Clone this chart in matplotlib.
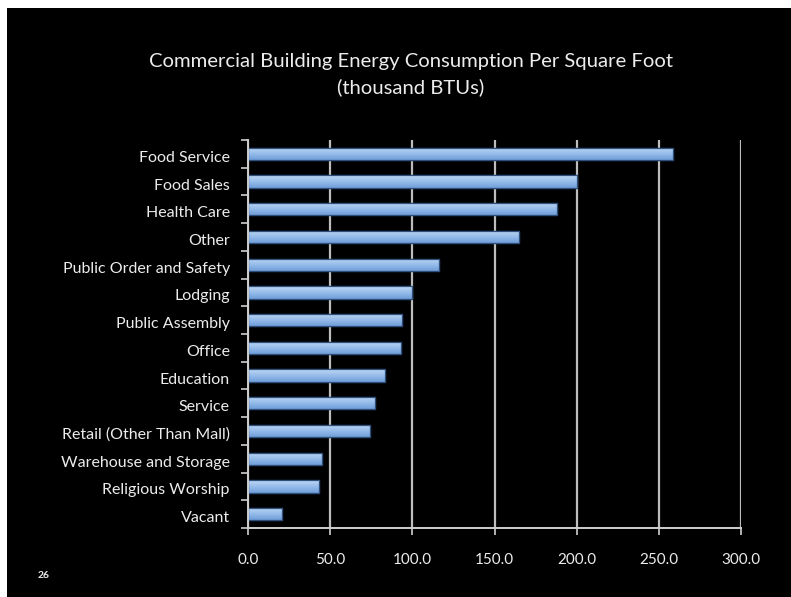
import numpy as np
import matplotlib
matplotlib.use("Agg")
import matplotlib.pyplot as plt
from matplotlib.colors import LinearSegmentedColormap
from matplotlib.patches import Rectangle
from matplotlib.transforms import ScaledTranslation

categories = ["Food Service", "Food Sales", "Health Care", "Other",
              "Public Order and Safety", "Lodging", "Public Assembly", "Office",
              "Education", "Service", "Retail (Other Than Mall)",
              "Warehouse and Storage", "Religious Worship", "Vacant"]
values = [258.5, 200.0, 188.0, 165.0, 116.0, 100.0, 94.0, 93.0,
          83.2, 77.0, 74.0, 45.0, 43.5, 20.8]
xticks = [0, 50, 100, 150, 200, 250, 300]
xtick_labels = ["0.0", "50.0", "100.0", "150.0", "200.0", "250.0", "300.0"]

plt.rcParams['font.family'] = ['Lato', 'DejaVu Sans']
txt = '#ececec'

fig = plt.figure(figsize=(7.91, 5.97), dpi=100)
fig.patch.set_facecolor('black')
# white page edge at top and left
fig.add_artist(Rectangle((0, 1 - 8/597), 1, 8/597, transform=fig.transFigure,
                         facecolor='white', edgecolor='none', zorder=10))
fig.add_artist(Rectangle((0, 0), 7/791, 1, transform=fig.transFigure,
                         facecolor='white', edgecolor='none', zorder=10))

ax = fig.add_axes([248/791, 1 - 528/597, (741 - 248)/791, (528 - 140)/597])
ax.set_facecolor('black')

n = len(categories)
pos = np.arange(n)
h = 0.44
cmap = LinearSegmentedColormap.from_list('g', ['#c3dbf6', '#a3c5ee', '#8ab3e6', '#6f9dd8'])
grad = np.linspace(0, 1, 50).reshape(-1, 1)
bars = ax.barh(pos, values, height=h, color='#8fb6e6', edgecolor='#2e4f7a',
               linewidth=0.9, zorder=3)
for b in bars:
    x0, y0 = b.get_x(), b.get_y()
    w, hh = b.get_width(), b.get_height()
    im = ax.imshow(grad, cmap=cmap, aspect='auto', extent=[x0, x0 + w, y0 + hh, y0],
                   zorder=3.5, interpolation='bicubic')
    im.set_clip_path(b)
    ax.add_patch(Rectangle((x0, y0), w, hh, facecolor='none', edgecolor='#2e4f7a',
                           linewidth=0.9, zorder=4))

ax.set_xlim(0, 300)
ax.set_ylim(n - 0.5, -0.5)
ax.set_xticks(xticks)
ax.set_xticklabels(xtick_labels)
ax.set_yticks(pos)
ax.set_yticklabels(categories)
ax.set_yticks(np.arange(-0.5, n, 1.0), minor=True)
ax.tick_params(axis='y', which='major', length=0, pad=13, labelsize=11.5, labelcolor=txt)
shift = ScaledTranslation(0, -2.5 / 100, fig.dpi_scale_trans)
for lab in ax.get_yticklabels():
    lab.set_transform(lab.get_transform() + shift)
ax.tick_params(axis='y', which='minor', length=5, width=1.2, color='#cfcfcf', direction='out')
ax.tick_params(axis='x', which='major', length=5, width=1.2, color='#cfcfcf',
               pad=13, labelsize=11, labelcolor=txt)
ax.grid(axis='x', color='#bdbdbd', linewidth=1.6, zorder=1)
ax.set_axisbelow(True)
for s in ['top', 'right']:
    ax.spines[s].set_visible(False)
for s in ['left', 'bottom']:
    ax.spines[s].set_color('#cfcfcf')
    ax.spines[s].set_linewidth(1.4)
    ax.spines[s].set_zorder(5)

fig.text(411/791, 1 - 61/597, "Commercial Building Energy Consumption Per Square Foot",
         ha='center', va='center', color=txt, fontsize=14.6)
fig.text(411/791, 1 - 87/597, "(thousand BTUs)",
         ha='center', va='center', color=txt, fontsize=14.6)
fig.text(44/791, 1 - 575/597, "26", ha='center', va='center', color=txt, fontsize=7.5,
         fontweight='bold')

fig.savefig('out.png', dpi=100, facecolor=fig.get_facecolor())
